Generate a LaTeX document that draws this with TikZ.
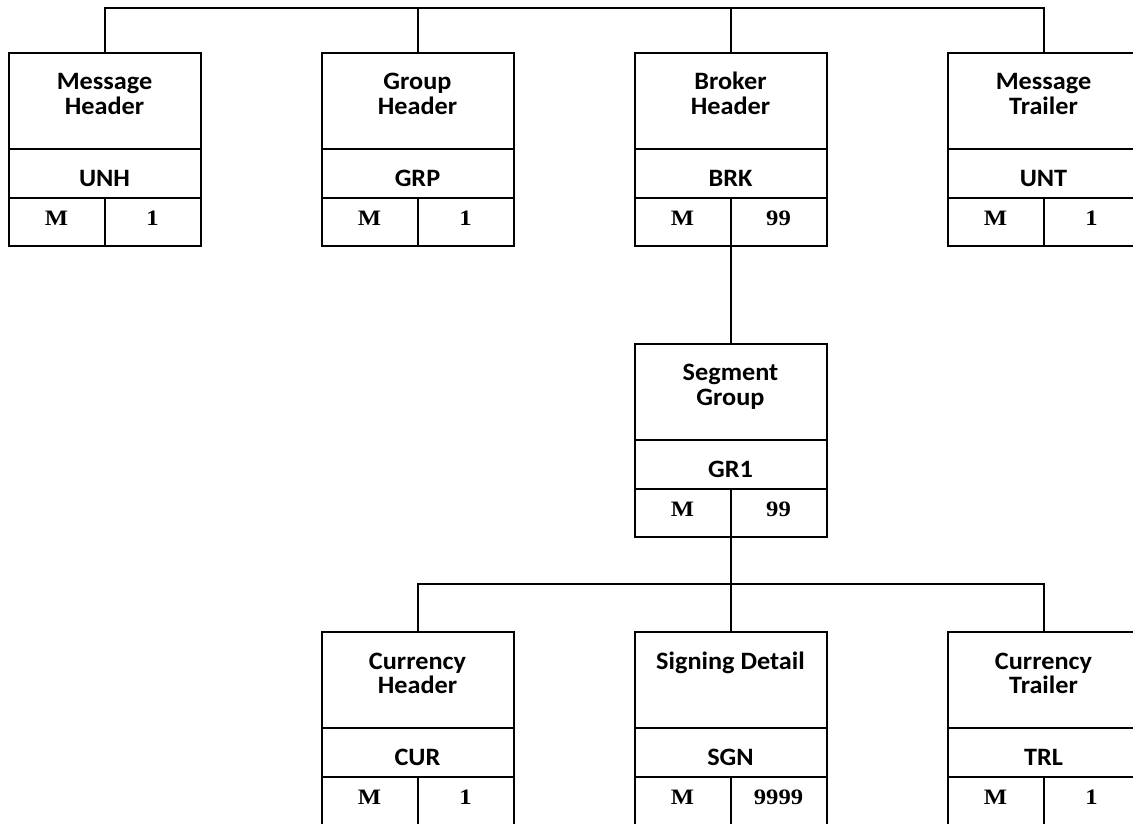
\documentclass[tikz,border=0pt]{standalone}
\usepackage{fontspec}
\setmainfont[FakeStretch=1.12]{Liberation Serif}
\newfontfamily\labelfont[FakeStretch=1.05]{Carlito}
\usetikzlibrary{positioning}

\begin{document}
\begin{tikzpicture}[x=1pt,y=1pt,
    box/.style={draw,line width=2pt,inner sep=0pt,outer sep=0pt,align=center},
    titlebox/.style={box,minimum width=\boxwidth pt,minimum height=\titleheight pt,font=\titlefontsize,text height=27pt,text depth=0pt},
    codebox/.style={box,minimum width=\boxwidth pt,minimum height=\codeheight pt,font=\titlefontsize,text height=26.4pt,text depth=0pt},
    countbox/.style={box,minimum width=\halfwidth pt,minimum height=\countheight pt,font=\countfontsize,text height=14pt,text depth=6.6pt},
    link/.style={line width=2pt}]
    \pgfmathsetmacro{\boxwidth}{192}
    \pgfmathsetmacro{\halfwidth}{\boxwidth/2}
    \pgfmathsetmacro{\titleheight}{96}
    \pgfmathsetmacro{\codeheight}{49}
    \pgfmathsetmacro{\countheight}{48}
    \pgfmathsetmacro{\firstcol}{104.5}
    \pgfmathsetmacro{\colspacing}{313}
    \pgfmathsetmacro{\toprow}{722}
    \pgfmathsetmacro{\midrow}{431}
    \pgfmathsetmacro{\lowrow}{143}
    \providecommand{\titlefontsize}{\labelfont\bfseries\fontsize{25pt}{24.5pt}\selectfont}
    \providecommand{\countfontsize}{\bfseries\fontsize{22pt}{24pt}\selectfont}
    \useasboundingbox (0,0) rectangle (1133,823);
    % top row
    \node[titlebox] (mh) at (\firstcol,\toprow) {Message\\Header};
    \node[codebox,below=0pt of mh] (mhcode) {UNH};
    \node[countbox,below right=0pt of mhcode.south west] (mhstatus) {M};
    \node[countbox,below left=0pt of mhcode.south east] (mhcount) {1};
    \node[titlebox] (gh) at ({\firstcol+\colspacing},\toprow) {Group\\Header};
    \node[codebox,below=0pt of gh] (ghcode) {GRP};
    \node[countbox,below right=0pt of ghcode.south west] (ghstatus) {M};
    \node[countbox,below left=0pt of ghcode.south east] (ghcount) {1};
    \node[titlebox] (bh) at ({\firstcol+2*\colspacing},\toprow) {Broker\\Header};
    \node[codebox,below=0pt of bh] (bhcode) {BRK};
    \node[countbox,below right=0pt of bhcode.south west] (bhstatus) {M};
    \node[countbox,below left=0pt of bhcode.south east] (bhcount) {99};
    \node[titlebox] (mt) at ({\firstcol+3*\colspacing},\toprow) {Message\\Trailer};
    \node[codebox,below=0pt of mt] (mtcode) {UNT};
    \node[countbox,below right=0pt of mtcode.south west] (mtstatus) {M};
    \node[countbox,below left=0pt of mtcode.south east] (mtcount) {1};
    % segment group
    \node[titlebox] (sg) at ({\firstcol+2*\colspacing},\midrow) {Segment\\Group};
    \node[codebox,below=0pt of sg] (sgcode) {GR1};
    \node[countbox,below right=0pt of sgcode.south west] (sgstatus) {M};
    \node[countbox,below left=0pt of sgcode.south east] (sgcount) {99};
    % bottom row
    \node[titlebox] (ch) at ({\firstcol+\colspacing},\lowrow) {Currency\\Header};
    \node[codebox,below=0pt of ch] (chcode) {CUR};
    \node[countbox,below right=0pt of chcode.south west] (chstatus) {M};
    \node[countbox,below left=0pt of chcode.south east] (chcount) {1};
    \node[titlebox] (sd) at ({\firstcol+2*\colspacing},\lowrow) {Signing Detail\\\mbox{}};
    \node[codebox,below=0pt of sd] (sdcode) {SGN};
    \node[countbox,below right=0pt of sdcode.south west] (sdstatus) {M};
    \node[countbox,below left=0pt of sdcode.south east] (sdcount) {9999};
    \node[titlebox] (ct) at ({\firstcol+3*\colspacing},\lowrow) {Currency\\Trailer};
    \node[codebox,below=0pt of ct] (ctcode) {TRL};
    \node[countbox,below right=0pt of ctcode.south west] (ctstatus) {M};
    \node[countbox,below left=0pt of ctcode.south east] (ctcount) {1};
    % connectors
    \coordinate (topbus) at (0,815);
    \coordinate (lowbus) at (0,239);
    \draw[link] (mh.north) |- (topbus -| mt.north) -- (mt.north);
    \draw[link] (gh.north) -- (gh.north |- topbus);
    \draw[link] (bh.north) -- (bh.north |- topbus);
    \draw[link] (bhstatus.south east) -- (sg.north);
    \draw[link] (sgstatus.south east) -- (sgstatus.south east |- lowbus);
    \draw[link] (ch.north) |- (lowbus -| ct.north) -- (ct.north);
    \draw[link] (sd.north) -- (sd.north |- lowbus);
\end{tikzpicture}
\end{document}
